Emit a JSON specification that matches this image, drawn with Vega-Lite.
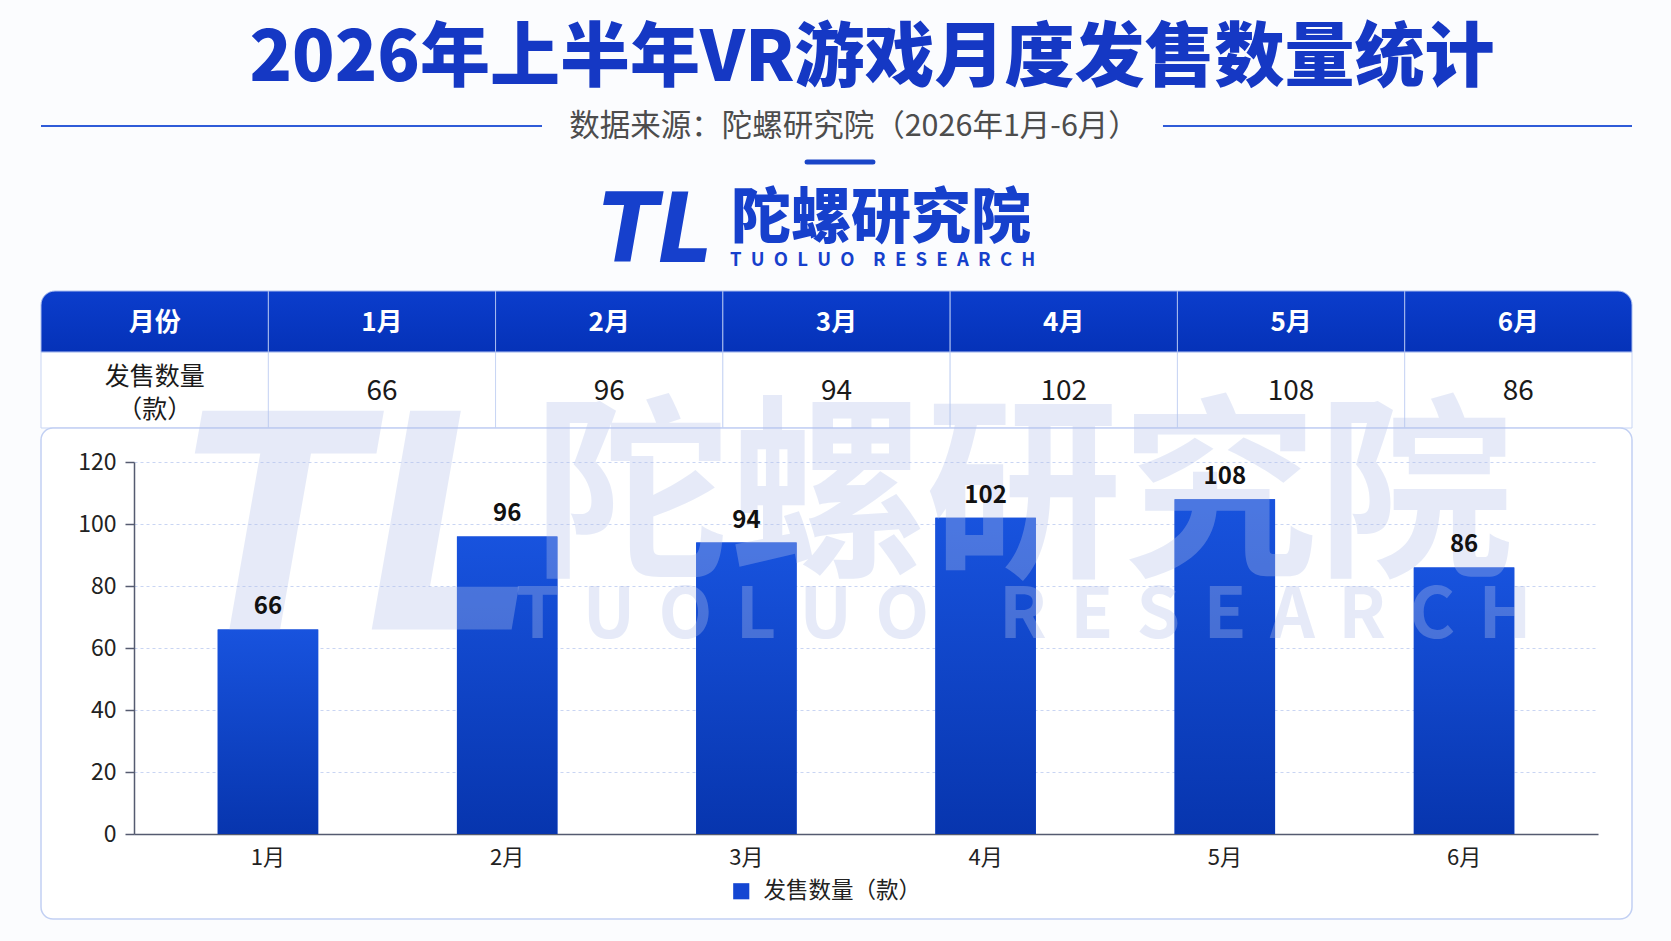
{
  "$schema": "https://vega.github.io/schema/vega-lite/v6.json",
  "background": "#fbfcfe",
  "padding": {"left": 40, "right": 40, "top": 0, "bottom": 22},
  "autosize": {"type": "pad"},
  "bounds": "flush",
  "spacing": 0,
  "config": {
    "font": "Noto Sans CJK SC",
    "view": {"stroke": null},
    "text": {"font": "Noto Sans CJK SC"}
  },
  "datasets": {
    "main": [
      {"month": "1月", "count": 66},
      {"month": "2月", "count": 96},
      {"month": "3月", "count": 94},
      {"month": "4月", "count": 102},
      {"month": "5月", "count": 108},
      {"month": "6月", "count": 86}
    ],
    "header": [
      {
        "title": "2026年上半年VR游戏月度发售数量统计",
        "source": "数据来源：陀螺研究院（2026年1月-6月）",
        "brand": "陀螺研究院",
        "brandEn": "T\u2002U\u2002O\u2002L\u2002U\u2002O\u2002\u2002R\u2002E\u2002S\u2002E\u2002A\u2002R\u2002C\u2002H",
        "brandWm": "T\u2004U\u2004O\u2004L\u2004U\u2004O\u2004\u2004\u2004R\u2004E\u2004S\u2004E\u2004A\u2004R\u2004C\u2004H",
        "icon": "TL",
        "colname": "月份",
        "row1": "发售数量",
        "row2": "（款）"
      }
    ]
  },
  "vconcat": [
    {
      "width": 1591,
      "height": 291,
      "data": {"name": "header"},
      "layer": [
        {
          "mark": {"type": "rule", "color": "#2f5bd8", "strokeWidth": 2},
          "encoding": {
            "x": {"datum": 0, "type": "quantitative", "scale": {"domain": [0, 1]}, "axis": null},
            "x2": {"datum": 0.3149},
            "y": {"datum": 0.433, "type": "quantitative", "scale": {"domain": [0, 1], "reverse": true}, "axis": null}
          }
        },
        {
          "mark": {"type": "rule", "color": "#2f5bd8", "strokeWidth": 2},
          "encoding": {
            "x": {"datum": 0.7052, "type": "quantitative"},
            "x2": {"datum": 1},
            "y": {"datum": 0.433, "type": "quantitative"}
          }
        },
        {
          "mark": {"type": "rule", "color": "#1a45c8", "strokeWidth": 5, "strokeCap": "round"},
          "encoding": {
            "x": {"datum": 0.4815, "type": "quantitative"},
            "x2": {"datum": 0.5229},
            "y": {"datum": 0.5567, "type": "quantitative"}
          }
        },
        {
          "mark": {"type": "text", "fontSize": 70, "fontWeight": 900, "color": "#1538c4", "baseline": "middle", "align": "center"},
          "encoding": {
            "text": {"field": "title"},
            "x": {"datum": 0.5223, "type": "quantitative"},
            "y": {"datum": 0.207, "type": "quantitative"}
          }
        },
        {
          "mark": {"type": "text", "fontSize": 30.5, "color": "#4d4d4d", "baseline": "middle", "align": "center"},
          "encoding": {
            "text": {"field": "source"},
            "x": {"datum": 0.511, "type": "quantitative"},
            "y": {"datum": 0.436, "type": "quantitative"}
          }
        },
        {
          "mark": {"type": "text", "fontSize": 96, "fontWeight": "bold", "fontStyle": "italic", "font": "'Liberation Sans Narrow', 'DejaVu Sans Condensed', 'Liberation Sans', sans-serif", "color": "#1640cc", "baseline": "middle", "align": "center"},
          "encoding": {
            "text": {"field": "icon"},
            "x": {"datum": 0.3866, "type": "quantitative"},
            "y": {"datum": 0.80, "type": "quantitative"}
          }
        },
        {
          "mark": {"type": "text", "fontSize": 60, "fontWeight": 900, "color": "#1640cc", "baseline": "middle", "align": "center"},
          "encoding": {
            "text": {"field": "brand"},
            "x": {"datum": 0.528, "type": "quantitative"},
            "y": {"datum": 0.756, "type": "quantitative"}
          }
        },
        {
          "mark": {"type": "text", "fontSize": 18.5, "fontWeight": "bold", "color": "#1640cc", "baseline": "middle", "align": "center"},
          "encoding": {
            "text": {"field": "brandEn"},
            "x": {"datum": 0.529, "type": "quantitative"},
            "y": {"datum": 0.8935, "type": "quantitative"}
          }
        }
      ]
    },
    {
      "width": 1591,
      "height": 137,
      "layer": [
        {
          "data": {"name": "main"},
          "mark": {"type": "rect", "fill": "#ffffff", "stroke": "#c8d5f4", "strokeWidth": 1},
          "encoding": {
            "x": {"field": "month", "type": "nominal", "scale": {"domain": ["月份", "1月", "2月", "3月", "4月", "5月", "6月"], "paddingInner": 0, "paddingOuter": 0}, "axis": null},
            "y": {"datum": 0.445, "type": "quantitative", "scale": {"domain": [0, 1], "reverse": true}, "axis": null},
            "y2": {"datum": 1}
          }
        },
        {
          "data": {"name": "header"},
          "mark": {"type": "rect", "fill": "#ffffff", "stroke": "#c8d5f4", "strokeWidth": 1},
          "encoding": {
            "x": {"field": "colname", "type": "nominal"},
            "y": {"datum": 0.445, "type": "quantitative"},
            "y2": {"datum": 1}
          }
        },
        {
          "data": {"name": "main"},
          "transform": [{"filter": "datum.month !== '6月'"}],
          "mark": {"type": "rect", "stroke": "#a9bcef", "strokeWidth": 1,
            "color": {"gradient": "linear", "x1": 0, "y1": 0, "x2": 0, "y2": 1, "stops": [{"offset": 0, "color": "#0b3dcc"}, {"offset": 1, "color": "#0532b8"}]}},
          "encoding": {
            "x": {"field": "month", "type": "nominal"},
            "y": {"datum": 0, "type": "quantitative"},
            "y2": {"datum": 0.445}
          }
        },
        {
          "data": {"name": "main"},
          "transform": [{"filter": "datum.month === '6月'"}],
          "mark": {"type": "rect", "stroke": "#a9bcef", "strokeWidth": 1, "cornerRadiusTopRight": 14,
            "color": {"gradient": "linear", "x1": 0, "y1": 0, "x2": 0, "y2": 1, "stops": [{"offset": 0, "color": "#0b3dcc"}, {"offset": 1, "color": "#0532b8"}]}},
          "encoding": {
            "x": {"field": "month", "type": "nominal"},
            "y": {"datum": 0, "type": "quantitative"},
            "y2": {"datum": 0.445}
          }
        },
        {
          "data": {"name": "header"},
          "mark": {"type": "rect", "stroke": "#a9bcef", "strokeWidth": 1, "cornerRadiusTopLeft": 14,
            "color": {"gradient": "linear", "x1": 0, "y1": 0, "x2": 0, "y2": 1, "stops": [{"offset": 0, "color": "#0b3dcc"}, {"offset": 1, "color": "#0532b8"}]}},
          "encoding": {
            "x": {"field": "colname", "type": "nominal"},
            "y": {"datum": 0, "type": "quantitative"},
            "y2": {"datum": 0.445}
          }
        },
        {
          "data": {"name": "main"},
          "mark": {"type": "text", "fontSize": 26, "fontWeight": "bold", "color": "#ffffff", "baseline": "middle"},
          "encoding": {
            "x": {"field": "month", "type": "nominal"},
            "y": {"datum": 0.235, "type": "quantitative"},
            "text": {"field": "month"}
          }
        },
        {
          "data": {"name": "header"},
          "mark": {"type": "text", "fontSize": 26, "fontWeight": "bold", "color": "#ffffff", "baseline": "middle"},
          "encoding": {
            "x": {"field": "colname", "type": "nominal"},
            "y": {"datum": 0.235, "type": "quantitative"},
            "text": {"field": "colname"}
          }
        },
        {
          "data": {"name": "main"},
          "mark": {"type": "text", "fontSize": 28, "color": "#1a1a1a", "baseline": "middle"},
          "encoding": {
            "x": {"field": "month", "type": "nominal"},
            "y": {"datum": 0.735, "type": "quantitative"},
            "text": {"field": "count"}
          }
        },
        {
          "data": {"name": "header"},
          "mark": {"type": "text", "fontSize": 25, "color": "#1a1a1a", "baseline": "middle"},
          "encoding": {
            "x": {"field": "colname", "type": "nominal"},
            "y": {"datum": 0.625, "type": "quantitative"},
            "text": {"field": "row1"}
          }
        },
        {
          "data": {"name": "header"},
          "mark": {"type": "text", "fontSize": 25, "color": "#1a1a1a", "baseline": "middle"},
          "encoding": {
            "x": {"field": "colname", "type": "nominal"},
            "y": {"datum": 0.87, "type": "quantitative"},
            "text": {"field": "row2"}
          }
        }
      ]
    },
    {
      "width": 1591,
      "height": 491,
      "view": {"stroke": "#c2d0f3", "strokeWidth": 1.5, "cornerRadius": 12, "fill": "#ffffff"},
      "data": {"name": "main"},
      "layer": [
        {
          "mark": {"type": "bar"},
          "encoding": {
            "x": {
              "field": "month", "type": "nominal", "sort": null,
              "scale": {"range": [93, 1557], "paddingInner": 0.58, "paddingOuter": 0.35},
              "axis": {"title": null, "orient": "bottom", "offset": -85, "domainColor": "#555b70", "domainWidth": 1.5, "ticks": false, "labelFontSize": 22, "labelColor": "#222222", "labelPadding": 13, "labelAngle": 0}
            },
            "y": {
              "field": "count", "type": "quantitative",
              "scale": {"domain": [0, 120], "range": [406, 34], "nice": false},
              "axis": {"title": null, "offset": -93, "values": [0, 20, 40, 60, 80, 100, 120], "domainColor": "#555b70", "domainWidth": 1.5, "tickColor": "#555b70", "tickWidth": 1.5, "tickSize": 9, "labelFontSize": 23, "labelColor": "#222222", "labelPadding": 9, "grid": true, "gridColor": "#c9d5f3", "gridDash": [3, 3], "gridWidth": 1}
            },
            "color": {
              "datum": "发售数量（款）", "type": "nominal",
              "scale": {"range": ["#1446d2"]},
              "legend": {"title": null, "orient": "none", "legendX": 689, "legendY": 880, "symbolType": "square", "symbolSize": 260, "symbolStrokeWidth": 0, "labelFontSize": 22.5, "labelColor": "#222222", "labelOffset": 11, "direction": "horizontal"}
            }
          }
        },
        {
          "mark": {"type": "bar",
            "color": {"gradient": "linear", "x1": 0, "y1": 0, "x2": 0, "y2": 1, "stops": [{"offset": 0, "color": "#1853de"}, {"offset": 1, "color": "#0735ae"}]}},
          "encoding": {
            "x": {"field": "month", "type": "nominal", "sort": null},
            "y": {"field": "count", "type": "quantitative"}
          }
        },
        {
          "data": {"name": "header"},
          "mark": {"type": "text", "fontSize": 300, "fontWeight": "bold", "fontStyle": "italic", "font": "'Liberation Sans Narrow', 'DejaVu Sans Condensed', 'Liberation Sans', sans-serif", "color": "#b4c2ea", "opacity": 0.33, "baseline": "middle", "align": "center", "dx": 92},
          "encoding": {
            "x": {"datum": "1月", "type": "nominal"},
            "y": {"datum": 95, "type": "quantitative"},
            "text": {"field": "icon"}
          }
        },
        {
          "data": {"name": "header"},
          "mark": {"type": "text", "fontSize": 196, "fontWeight": "bold", "color": "#b4c2ea", "opacity": 0.33, "baseline": "middle", "align": "center", "dx": 38},
          "encoding": {
            "x": {"datum": "4月", "type": "nominal"},
            "y": {"datum": 107, "type": "quantitative"},
            "text": {"field": "brand"}
          }
        },
        {
          "data": {"name": "header"},
          "mark": {"type": "text", "fontSize": 70, "fontWeight": "bold", "color": "#b4c2ea", "opacity": 0.33, "baseline": "middle", "align": "center", "dx": 38},
          "encoding": {
            "x": {"datum": "4月", "type": "nominal"},
            "y": {"datum": 70, "type": "quantitative"},
            "text": {"field": "brandWm"}
          }
        },
        {
          "mark": {"type": "text", "baseline": "alphabetic", "dy": -15, "fontSize": 24, "fontWeight": "bold", "color": "#111111"},
          "encoding": {
            "x": {"field": "month", "type": "nominal", "sort": null},
            "y": {"field": "count", "type": "quantitative"},
            "text": {"field": "count"}
          }
        }
      ]
    }
  ]
}
